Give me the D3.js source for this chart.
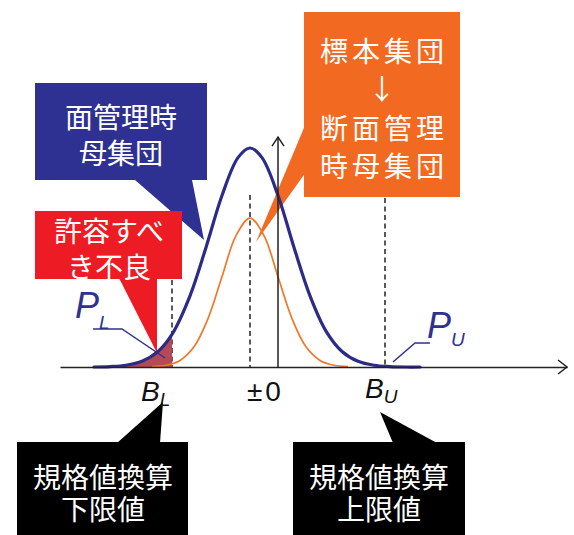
<!DOCTYPE html>
<html>
<head>
<meta charset="utf-8">
<script src="https://cdn.jsdelivr.net/npm/d3@7"></script>
<style>
  body { margin: 0; background: #fff; }
  .jp { font-family: "Noto Sans CJK JP", sans-serif; font-size: 28px; fill: #fff; }
  .lbl { font-family: "Liberation Sans", Arial, sans-serif; }
</style>
</head>
<body>
<div id="chart"></div>
<script>
// curve points (x: axis units, y: relative height)
var blueX = [-4.6, -4.2, -3.8, -3.4, -3.0, -2.65, -2.2, -1.8, -1.4, -1.0, -0.7, -0.4, 0.0, 0.4, 0.8, 1.2, 1.6, 2.0, 2.4, 2.8, 3.2, 3.55];
var blueY = [0.000, 0.002, 0.008, 0.026, 0.071, 0.149, 0.325, 0.546, 0.783, 0.956, 1.0, 0.956, 0.783, 0.546, 0.325, 0.164, 0.071, 0.026, 0.008, 0.002, 0.000, 0.000];
var orangeX = [-3.15, -2.8, -2.45, -2.1, -1.75, -1.4, -1.05, -0.7, -0.35, 0, 0.35, 0.7, 1.05, 1.4, 1.75];
var orangeY = [0.002, 0.008, 0.030, 0.092, 0.221, 0.412, 0.600, 0.680, 0.600, 0.412, 0.221, 0.092, 0.030, 0.008, 0.002];

var meanX = -0.7;
var lowerLimit = -2.65, upperLimit = 2.675;
var axisRange = [-5.45, 7.225];

// texts
var blueBoxText = ["面管理時", "母集団"];
var redBoxText = ["許容すべ", "き不良"];
var orangeBoxText = ["標本集団", "↓", "断面管理", "時母集団"];
var lowerBoxText = ["規格値換算", "下限値"];
var upperBoxText = ["規格値換算", "上限値"];
var zeroLabel = "±0";

var width = 574, height = 535;

var svg = d3.select("#chart")
  .append("svg")
    .attr("width", width)
    .attr("height", height);

var x = d3.scaleLinear().domain(axisRange).range([60, 567]);
var y = d3.scaleLinear().domain([0, 1]).range([367, 148]);

var blue = blueX.map(function(d, i){ return {x: d, y: blueY[i]}; });
var orange = orangeX.map(function(d, i){ return {x: d, y: orangeY[i]}; });

// callout boxes (drawn first so curves sit on top)
function callout(color, rect, pointer, lines, cx, cy, pitch, spacing) {
  var g = svg.append("g");
  g.append("rect")
    .attr("x", rect[0]).attr("y", rect[1])
    .attr("width", rect[2]).attr("height", rect[3])
    .attr("fill", color);
  g.append("path")
    .attr("d", d3.line()(pointer) + "Z")
    .attr("fill", color);
  // one text element, one tspan per line
  var t = g.append("text")
    .attr("class", "jp")
    .attr("text-anchor", "middle")
    .attr("dominant-baseline", "central")
    .style("letter-spacing", (spacing || 0) + "px");
  t.selectAll("tspan")
    .data(lines)
    .enter().append("tspan")
      .attr("x", cx + (spacing || 0) / 2)
      .attr("y", function(d, i){ return cy + i * pitch; })
      .text(function(d){ return d; });
}

callout("#2e3192", [35, 83, 172, 97], [[135, 180], [192, 180], [204, 240]], blueBoxText, 121, 115.5, 36);
callout("#ed1c24", [35, 211, 147, 68], [[119, 278], [157, 278], [157, 353]], redBoxText, 109, 229.5, 36);
callout("#f26a21", [304, 12, 156, 185], [[306, 123], [306, 172], [256, 242]], orangeBoxText, 382, 50, 38.3, 4);
callout("#000", [17, 442, 171, 100], [[117, 443], [160, 443], [163, 402]], lowerBoxText, 103, 475.5, 32);
callout("#000", [293, 442, 172, 100], [[380, 412], [393, 443], [437, 443]], upperBoxText, 379, 475.5, 32);

// dashed guide lines
var guides = [
  {x: lowerLimit, top: 280},
  {x: meanX, top: 195},
  {x: upperLimit, top: 198}
];
svg.selectAll("line.guide")
  .data(guides)
  .enter().append("line")
    .attr("class", "guide")
    .attr("x1", function(d){ return x(d.x); })
    .attr("x2", function(d){ return x(d.x); })
    .attr("y1", function(d){ return d.top; })
    .attr("y2", y(0))
    .attr("stroke", "#222")
    .attr("stroke-width", 1.5)
    .attr("stroke-dasharray", "5,3.5");

// shaded tail below lower limit
svg.append("path")
  .datum(blue.filter(function(d){ return d.x <= lowerLimit; }))
  .attr("fill", "#b44a56")
  .attr("d", d3.area()
    .x(function(d){ return x(d.x); })
    .y0(y(0))
    .y1(function(d){ return y(d.y); })
    .curve(d3.curveCatmullRom));

// curves
var line = d3.line()
  .x(function(d){ return x(d.x); })
  .y(function(d){ return y(d.y); })
  .curve(d3.curveCatmullRom);

svg.append("path")
  .datum(orange)
  .attr("fill", "none")
  .attr("stroke", "#f07828")
  .attr("stroke-width", 1.7)
  .attr("d", line);

svg.append("path")
  .datum(blue)
  .attr("fill", "none")
  .attr("stroke", "#2c2c86")
  .attr("stroke-width", 3.2)
  .attr("stroke-linecap", "round")
  .attr("d", line);

// axes
svg.append("g")
  .attr("transform", "translate(0," + y(0) + ")")
  .call(d3.axisBottom(x).tickValues([]).tickSizeOuter(0))
  .select(".domain").attr("stroke", "#222").attr("stroke-width", 1.5);

var x0 = x(0), yTop = y(1.05), xEnd = x(axisRange[1]);
svg.append("line")
  .attr("x1", x0).attr("x2", x0)
  .attr("y1", y(0)).attr("y2", yTop)
  .attr("stroke", "#222").attr("stroke-width", 1.5);

svg.append("path")
  .attr("d", "M" + (xEnd - 9) + "," + (y(0) - 7) + "L" + xEnd + "," + y(0) + "L" + (xEnd - 9) + "," + (y(0) + 7))
  .attr("fill", "none").attr("stroke", "#222").attr("stroke-width", 1.5);
svg.append("path")
  .attr("d", "M" + (x0 - 6) + "," + (yTop + 9) + "L" + x0 + "," + yTop + "L" + (x0 + 6) + "," + (yTop + 9))
  .attr("fill", "none").attr("stroke", "#222").attr("stroke-width", 1.5);

// axis labels
function subLabel(xPos, yPos, main, sub, size, subSize, subDy, color) {
  var t = svg.append("text")
    .attr("class", "lbl")
    .attr("x", xPos).attr("y", yPos)
    .attr("fill", color)
    .style("font-style", "italic")
    .style("font-size", size + "px");
  t.append("tspan").text(main);
  t.append("tspan")
    .attr("dy", subDy)
    .style("font-size", subSize + "px")
    .text(sub);
}

subLabel(x(lowerLimit) - 31, 401, "B", "L", 28, 19, 5, "#111");
subLabel(x(upperLimit) - 20, 398, "B", "U", 28, 19, 5, "#111");

svg.append("text")
  .attr("class", "lbl")
  .attr("x", x(meanX) - 3)
  .attr("y", 401)
  .attr("fill", "#111")
  .style("font-size", "28px")
  .style("letter-spacing", "3px")
  .text(zeroLabel);

// P labels with leader lines
subLabel(75, 318, "P", "L", 36, 19, 11, "#2e3192");
subLabel(427, 338, "P", "U", 36, 19, 8, "#2e3192");

svg.append("path")
  .attr("d", "M93,329L122,329L165,358")
  .attr("fill", "none").attr("stroke", "#2e3192").attr("stroke-width", 1.5);
svg.append("path")
  .attr("d", "M393,362L415,343L430,343")
  .attr("fill", "none").attr("stroke", "#2e3192").attr("stroke-width", 1.5);
</script>
</body>
</html>
